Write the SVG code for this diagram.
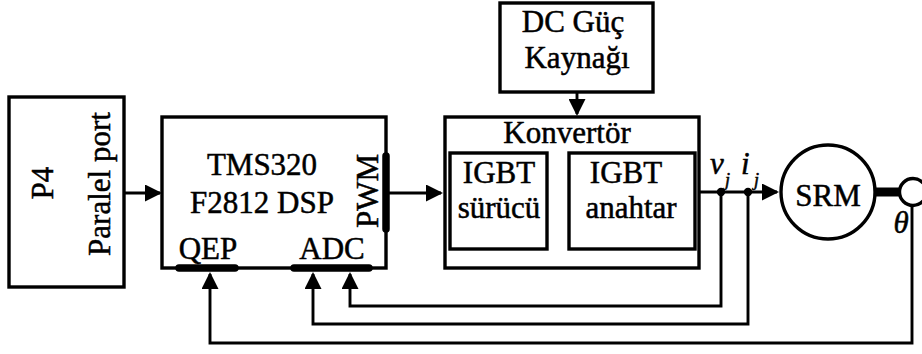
<svg xmlns="http://www.w3.org/2000/svg" width="922" height="354" viewBox="0 0 922 354" font-family="'Liberation Serif', serif">
<style>
text{font-family:'Liberation Serif',serif;font-size:31px;fill:#000;stroke:#000;stroke-width:0.5}
.box{fill:#fff;stroke:#000;stroke-width:3.4}
.ln{fill:none;stroke:#000;stroke-width:2.9}
.bar{stroke:#000;stroke-width:7.5;stroke-linecap:round}
.mid{text-anchor:middle}
.it{font-style:italic}
.sub{font-size:18px;font-style:italic}
</style>
<defs>
<marker id="ah" viewBox="0 0 17 17" refX="15" refY="8.5" markerWidth="17" markerHeight="17" orient="auto" markerUnits="userSpaceOnUse">
<path d="M0,0 L17,8.5 L0,17 z" fill="#000"/>
</marker>
</defs>
<rect width="922" height="354" fill="#fff"/>

<g id="connectors">
<path class="ln" d="M124,193 H160" marker-end="url(#ah)"/>
<path class="ln" d="M389,193 H441" marker-end="url(#ah)"/>
<path class="ln" d="M577,92 V114" marker-end="url(#ah)"/>
<path class="ln" d="M547,200 H566" marker-end="url(#ah)"/>
<path class="ln" d="M699,192 H777" marker-end="url(#ah)"/>
<path class="ln" d="M721,192 V306 H350 V274" marker-end="url(#ah)"/>
<path class="ln" d="M748,192 V324 H313 V274" marker-end="url(#ah)"/>
<path class="ln" d="M912,205 V343 H210 V274" marker-end="url(#ah)"/>
<circle cx="721" cy="192" r="4.2" fill="#000"/>
<circle cx="748" cy="192" r="4.2" fill="#000"/>
<line x1="873" y1="192" x2="900" y2="192" stroke="#000" stroke-width="9"/>
</g>

<g id="p4">
<rect class="box" x="9" y="97" width="115" height="190"/>
<text class="mid" transform="translate(53,183) rotate(-90)">P4</text>
<text class="mid" transform="translate(110,184) rotate(-90)">Paralel port</text>
</g>

<g id="dsp">
<rect class="box" x="162" y="117" width="224" height="151"/>
<text class="mid" x="262" y="175">TMS320</text>
<text class="mid" x="262" y="213">F2812 DSP</text>
<text class="mid" transform="translate(378,191) rotate(-90)">PWM</text>
<text class="mid" x="208" y="259">QEP</text>
<text class="mid" x="332" y="259">ADC</text>
<line class="bar" x1="386" y1="156" x2="386" y2="229"/>
<line class="bar" x1="179" y1="268" x2="235" y2="268"/>
<line class="bar" x1="294" y1="268" x2="369" y2="268"/>
</g>

<g id="dc">
<rect class="box" x="500" y="3" width="153" height="89"/>
<text class="mid" x="573" y="32">DC Güç</text>
<text class="mid" x="577" y="68">Kaynağı</text>
</g>

<g id="konvertor">
<rect class="box" x="445" y="117" width="254" height="151"/>
<text class="mid" x="567" y="143">Konvertör</text>
</g>

<g id="surucu">
<rect class="box" x="450" y="153" width="97" height="96"/>
<text class="mid" x="499" y="183">IGBT</text>
<text class="mid" x="499" y="218">sürücü</text>
</g>

<g id="anahtar">
<rect class="box" x="569" y="153" width="126" height="96"/>
<text class="mid" x="626" y="183">IGBT</text>
<text class="mid" x="631" y="218">anahtar</text>
</g>

<g id="labels">
<text class="it" x="710" y="174">v</text>
<text class="sub" x="725" y="186">j</text>
<text class="it" x="741" y="174">i</text>
<text class="sub" x="754" y="186">j</text>
</g>

<g id="srm">
<circle cx="828" cy="192" r="47" fill="#fff" stroke="#000" stroke-width="3.4"/>
<text class="mid" x="828" y="206">SRM</text>
</g>

<g id="encoder">
<circle cx="913" cy="192" r="13.5" fill="#fff" stroke="#000" stroke-width="3.4"/>
<text class="it mid" x="901" y="233">θ</text>
</g>
</svg>
